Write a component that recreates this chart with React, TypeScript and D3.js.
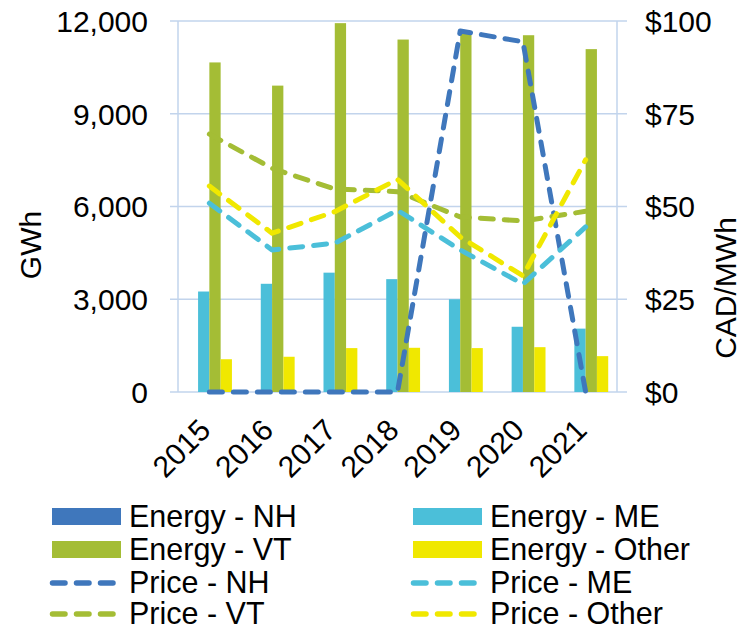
import React from "react";
import * as d3 from "d3";

const years = ["2015", "2016", "2017", "2018", "2019", "2020", "2021"];
const energyNH = [0, 0, 0, 0, 0, 0, 0];
const energyME = [3250, 3500, 3860, 3650, 3000, 2110, 2050];
const energyVT = [10660, 9910, 11930, 11400, 11650, 11540, 11090];
const energyOther = [1060, 1140, 1420, 1430, 1420, 1450, 1160];
const priceNH = [0, 0, 0, 0, 97.3, 94.4, 0];
const priceME = [50.9, 38.3, 40.1, 49.0, 38.3, 29.1, 44.5];
const priceVT = [69.5, 60.3, 54.7, 54.0, 47.2, 46.1, 48.7];
const priceOther = [55.5, 42.8, 48.6, 57.3, 41.8, 31.3, 62.6];
const leftTicks = [0, 3000, 6000, 9000, 12000];
const rightTicks = [0, 25, 50, 75, 100];

const C = { NH: "#3f77bc", ME: "#4bbfd9", VT: "#a4bd35", Other: "#f0e800" };
const FONT = "'Liberation Sans', Arial, sans-serif";

const barSeries = [
  { name: "Energy - NH", key: "NH", values: energyNH },
  { name: "Energy - ME", key: "ME", values: energyME },
  { name: "Energy - VT", key: "VT", values: energyVT },
  { name: "Energy - Other", key: "Other", values: energyOther },
];
const lineSeries = [
  { name: "Price - NH", key: "NH", values: priceNH },
  { name: "Price - ME", key: "ME", values: priceME },
  { name: "Price - VT", key: "VT", values: priceVT },
  { name: "Price - Other", key: "Other", values: priceOther },
];

export default function App() {
  const W = 741, H = 630;
  const L = 178, R = 617, T = 21, B = 392;
  const x = d3.scaleBand<string>().domain(years).range([L, R]).padding(0);
  const bw = x.bandwidth();
  const x1 = d3.scaleBand<string>().domain(barSeries.map((s) => s.key)).range([bw * 0.14, bw * 0.86]).padding(0);
  const yL = d3.scaleLinear().domain([0, 12000]).range([B, T]);
  const yR = d3.scaleLinear().domain([0, 100]).range([B, T]);
  const fmt = d3.format(",");
  const grid = "#c2d4ec";

  const legendItems = [
    barSeries[0], barSeries[1], barSeries[2], barSeries[3],
    lineSeries[0], lineSeries[1], lineSeries[2], lineSeries[3],
  ];
  const rowY = [516.5, 549.5, 582, 613];
  const colX = [52, 413];

  return (
    <svg width={W} height={H} style={{ position: "absolute", left: 0, top: 0, background: "#fff" }} fontFamily={FONT}>
      {leftTicks.map((t) => (
        <line key={"g" + t} x1={L - 8} x2={R + 10} y1={yL(t)} y2={yL(t)} stroke={grid} strokeWidth={1.5} />
      ))}
      <line x1={L} x2={L} y1={T} y2={B} stroke={grid} strokeWidth={1.5} />
      <line x1={R} x2={R} y1={T} y2={B} stroke={grid} strokeWidth={1.5} />
      {leftTicks.map((t) => (
        <text key={"l" + t} x={148} y={yL(t)} dy="0.36em" textAnchor="end" fontSize={30} fill="#000">
          {fmt(t)}
        </text>
      ))}
      {rightTicks.map((t) => (
        <text key={"r" + t} x={645} y={yR(t)} dy="0.36em" textAnchor="start" fontSize={30} fill="#000">
          {"$" + t}
        </text>
      ))}
      <text transform={`translate(41,245) rotate(-90)`} textAnchor="middle" fontSize={30}>GWh</text>
      <text transform={`translate(736,288) rotate(-90)`} textAnchor="middle" fontSize={30}>CAD/MWh</text>
      {years.map((yr) => (
        <text key={yr} transform={`translate(${(x(yr) as number) + bw / 2 + 3},432) rotate(-45)`} textAnchor="end" fontSize={30}>
          {yr}
        </text>
      ))}
      {barSeries.map((s) => (
        <g key={s.key}>
          {s.values.map((v, i) => (
            <rect
              key={i}
              x={(x(years[i]) as number) + (x1(s.key) as number)}
              y={yL(v)}
              width={x1.bandwidth()}
              height={B - yL(v)}
              fill={C[s.key as keyof typeof C]}
            />
          ))}
        </g>
      ))}
      {lineSeries.map((s) => {
        const line = d3
          .line<number>()
          .x((_, i) => (x(years[i]) as number) + bw / 2)
          .y((v) => yR(v));
        return (
          <path
            key={s.key}
            d={line(s.values) as string}
            fill="none"
            stroke={C[s.key as keyof typeof C]}
            strokeWidth={5}
            strokeDasharray="13 11"
            strokeLinecap="round"
            strokeLinejoin="round"
          />
        );
      })}
      {legendItems.map((s, i) => {
        const row = Math.floor(i / 2);
        const col = i % 2;
        const cx = colX[col];
        const cy = rowY[row];
        const isBar = i < 4;
        const color = C[s.key as keyof typeof C];
        return (
          <g key={s.name}>
            {isBar ? (
              <rect x={cx} y={cy - 8.5} width={69} height={17} fill={color} />
            ) : (
              <line x1={cx + 0.5} x2={cx + 66} y1={cy + 1} y2={cy + 1} stroke={color} strokeWidth={5.5} strokeDasharray="12.5 11.5" strokeLinecap="round" />
            )}
            <text x={cx + 77} y={cy} dy="0.35em" fontSize={30.5} fill="#000">
              {s.name}
            </text>
          </g>
        );
      })}
    </svg>
  );
}
